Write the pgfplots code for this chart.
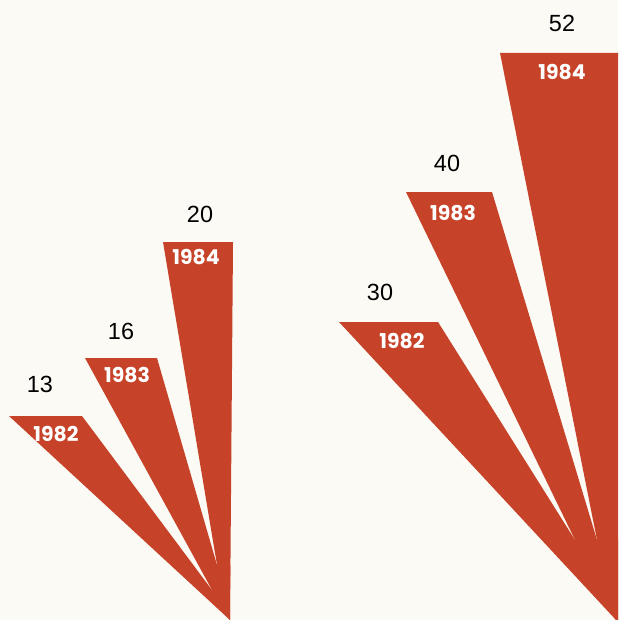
\documentclass[border=0pt]{standalone}
\usepackage{fontspec}
\usepackage{pgfplots}
\pgfplotsset{compat=1.18}
\setmainfont{Liberation Sans}
\newfontfamily\yearfont{Poppins}

\definecolor{wedge}{RGB}{198,66,40}
\definecolor{paper}{RGB}{252,250,245}

\begin{document}
\begin{tikzpicture}[
    value/.style={inner sep=0pt, font=\fontsize{23.5}{24}\selectfont, text=black},
    year/.style={inner sep=0pt, font=\fontsize{20.5}{21}\selectfont\yearfont\bfseries, text=white},
]
\begin{axis}[
    scale only axis,
    width=618bp, height=620bp,
    xmin=0, xmax=618, ymin=0, ymax=620,
    y dir=reverse,
    hide axis,
    clip=true,
]
\fill[paper] (axis cs:0,0) rectangle (axis cs:618,620);

% left group (13, 16, 20): wedges meet at (230,620)
\addplot[fill=wedge, draw=none] coordinates {(9,416) (82,416) (212,590) (230,620)} -- cycle;
\addplot[fill=wedge, draw=none] coordinates {(85,358) (157,358) (217,565) (230,620) (212,590)} -- cycle;
\addplot[fill=wedge, draw=none] coordinates {(163,242) (233,242) (230,620) (217,565)} -- cycle;
\addplot[fill=wedge, draw=none] coordinates {(208,595) (212,590) (217,565) (230.3,565) (230,620)} -- cycle;

% right group (30, 40, 52): wedges meet at (616,620)
\addplot[fill=wedge, draw=none] coordinates {(339,322) (438,322) (575,540) (616,620)} -- cycle;
\addplot[fill=wedge, draw=none] coordinates {(406,192) (492,192) (597,540) (616,620) (575,540)} -- cycle;
\addplot[fill=wedge, draw=none] coordinates {(500,53) (618,53) (618,620) (616,620) (597,540)} -- cycle;
\addplot[fill=wedge, draw=none] coordinates {(570,548) (575,540) (597,540) (618,540) (618,620) (616,620)} -- cycle;

\node[value] at (axis cs:40,384) {13};
\node[value] at (axis cs:121,331) {16};
\node[value] at (axis cs:200,214) {20};
\node[value] at (axis cs:380,292) {30};
\node[value] at (axis cs:447,163) {40};
\node[value] at (axis cs:562,23) {52};

\node[year] at (axis cs:56,434) {1982};
\node[year] at (axis cs:127,375) {1983};
\node[year] at (axis cs:196,257) {1984};
\node[year] at (axis cs:402,341) {1982};
\node[year] at (axis cs:453,213) {1983};
\node[year] at (axis cs:562,72) {1984};
\end{axis}
\end{tikzpicture}
\end{document}
